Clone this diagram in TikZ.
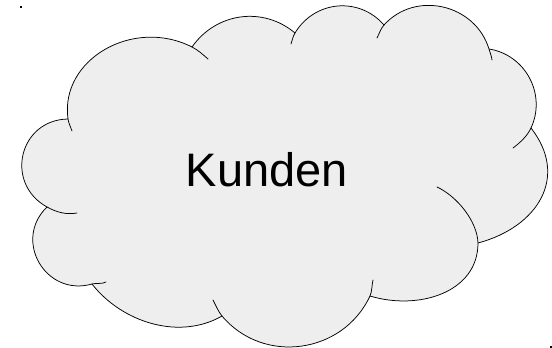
\documentclass[tikz,border=0pt]{standalone}
\usepackage{fontspec}
\setmainfont{Liberation Sans}
\definecolor{cloudgray}{RGB}{238,238,238}

\begin{document}
\begin{tikzpicture}[x=1pt, y=1pt,
  cloudedge/.style={draw=black, line width=0.75pt, fill=cloudgray, line join=round},
  hook/.style={draw=black, line width=0.75pt, line cap=round}
]
  \useasboundingbox (0,0) rectangle (552,348);

  % corners where the puffs meet
  \coordinate (j1) at (68,229);
  \coordinate (j2) at (192,301);
  \coordinate (j3) at (295,315);
  \coordinate (j4) at (384,323);
  \coordinate (j5) at (489,299);
  \coordinate (j6) at (531,220);
  \coordinate (j7) at (478,105);
  \coordinate (j8) at (370,52);
  \coordinate (j9) at (222,32);
  \coordinate (j10) at (92,64);
  \coordinate (j11) at (47,141);

  % inner ends of the small hooks
  \coordinate (h1) at (72,217);
  \coordinate (h2) at (208,289);
  \coordinate (h3) at (291,304);
  \coordinate (h4) at (377,310);
  \coordinate (h5) at (492,288);
  \coordinate (h6) at (513,200);
  \coordinate (h7) at (437,161);
  \coordinate (h8) at (373,68);
  \coordinate (h9) at (213,48);
  \coordinate (h10) at (106,66);
  \coordinate (h11) at (77,135);

  % the cloud
  \path[cloudedge] (j1)
    to[out=98, in=153, out distance=60, in distance=66] (j2)
    to[out=55, in=140, distance=42] (j3)
    to[out=59, in=131, distance=38] (j4)
    to[out=48, in=107, distance=47] (j5)
    to[out=-9, in=65, distance=37] (j6)
    to[out=-52, in=15, distance=62] (j7)
    to[out=270, in=343, distance=50] (j8)
    to[out=245, in=310, distance=64] (j9)
    to[out=210, in=308, distance=49] (j10)
    to[out=196, in=224, distance=48] (j11)
    to[out=151, in=181, distance=49] (j1) -- cycle;

  \foreach \j/\h/\o/\i/\d in {j1/h1/278/109/4, j2/h2/333/139/7,
      j3/h3/239/72/4, j4/h4/228/62/5, j5/h5/287/97/4, j6/h6/245/37/9,
      j7/h7/92/335/22, j8/h8/65/256/5, j9/h9/130/298/6,
      j10/h10/16/213/4, j11/h11/331/190/11}
    \draw[hook] (\j) to[out=\o, in=\i, distance=\d] (\h);

  \node[font=\fontsize{47}{56}\selectfont] (kunden) at (267,178.5) {Kunden};

  % tiny corner marks
  \fill (20.4,340.4) rectangle (21.8,341.8);
  \fill (550.4,0.4) rectangle (551.8,2.2);
\end{tikzpicture}
\end{document}
